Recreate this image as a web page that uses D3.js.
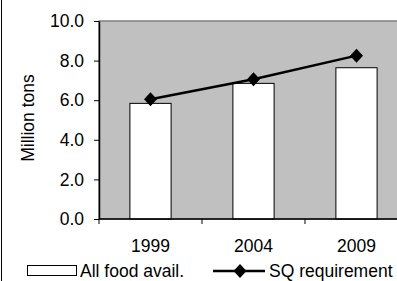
<!DOCTYPE html>
<html>
<head>
<meta charset="utf-8">
<script src="https://cdn.jsdelivr.net/npm/d3@7"></script>
<style>
  body { margin: 0; background: #fff; }
  svg { display: block; font-family: "Liberation Sans", Arial, sans-serif; }
</style>
</head>
<body>
<div id="chart"></div>
<script>
// Chart data
var years = ["1999", "2004", "2009"];
var foodAvail = [5.84, 6.85, 7.64];
var sqRequirement = [6.05, 7.06, 8.25];
var yTicks = [0, 2, 4, 6, 8, 10];

var svgWidth = 397;
var svgHeight = 281;
var fontSize = "17.5px";

// plot area (runs a bit past the right edge like the original)
var plot = { left: 99, right: 408, top: 21, bottom: 219 };

var svg = d3.select("#chart")
  .append("svg")
  .attr("width", svgWidth)
  .attr("height", svgHeight);

var xScale = d3.scaleBand()
  .domain(years)
  .range([plot.left, plot.right])
  .padding(0);

var yScale = d3.scaleLinear()
  .domain([0, 10])
  .range([plot.bottom, plot.top]);

// left frame line
svg.append("line")
  .attr("x1", 1.5).attr("x2", 1.5)
  .attr("y1", 0).attr("y2", svgHeight)
  .attr("stroke", "#000")
  .attr("stroke-width", 1);

// grey plot background
svg.append("rect")
  .attr("x", plot.left)
  .attr("y", plot.top)
  .attr("width", plot.right - plot.left)
  .attr("height", plot.bottom - plot.top)
  .attr("fill", "#c0c0c0")
  .attr("stroke", "#808080")
  .attr("stroke-width", 1.5);

// bars
var barWidth = xScale.bandwidth() * 0.4;
svg.selectAll(".bar")
  .data(foodAvail)
  .enter()
  .append("rect")
  .attr("class", "bar")
  .attr("x", (d, i) => xScale(years[i]) + xScale.bandwidth() / 2 - barWidth / 2)
  .attr("y", d => yScale(d))
  .attr("width", barWidth)
  .attr("height", d => yScale(0) - yScale(d))
  .attr("fill", "#fff")
  .attr("stroke", "#000")
  .attr("stroke-width", 1);

// y axis
var leftAxis = d3.axisLeft(yScale)
  .tickValues(yTicks)
  .tickFormat(d3.format(".1f"))
  .tickSizeInner(5)
  .tickSizeOuter(0)
  .tickPadding(10);

var yAxisG = svg.append("g")
  .attr("transform", `translate(${plot.left}, 0)`)
  .call(leftAxis);
yAxisG.select(".domain").attr("stroke", "#000").attr("stroke-width", 1.5);
yAxisG.selectAll("text")
  .attr("font-size", fontSize)
  .attr("fill", "#000")
  .attr("font-family", "Liberation Sans, Arial, sans-serif");

// x axis line and ticks at category boundaries
var xAxisG = svg.append("g");
xAxisG.append("line")
  .attr("x1", plot.left).attr("x2", plot.right)
  .attr("y1", plot.bottom).attr("y2", plot.bottom)
  .attr("stroke", "#000")
  .attr("stroke-width", 1.5);
xAxisG.selectAll(".xtick")
  .data(years)
  .enter()
  .append("line")
  .attr("class", "xtick")
  .attr("x1", d => xScale(d))
  .attr("x2", d => xScale(d))
  .attr("y1", plot.bottom)
  .attr("y2", plot.bottom + 5)
  .attr("stroke", "#000");
xAxisG.selectAll(".xlabel")
  .data(years)
  .enter()
  .append("text")
  .attr("class", "xlabel")
  .attr("x", d => xScale(d) + xScale.bandwidth() / 2)
  .attr("y", 252)
  .attr("text-anchor", "middle")
  .attr("font-size", fontSize)
  .text(d => d);

// SQ requirement line
var line = d3.line()
  .x((d, i) => xScale(years[i]) + xScale.bandwidth() / 2)
  .y(d => yScale(d));

svg.append("path")
  .datum(sqRequirement)
  .attr("d", line)
  .attr("fill", "none")
  .attr("stroke", "#000")
  .attr("stroke-width", 2.5);

var diamond = "M0,-7L6.5,0L0,7L-6.5,0Z";
svg.selectAll(".marker")
  .data(sqRequirement)
  .enter()
  .append("path")
  .attr("class", "marker")
  .attr("d", diamond)
  .attr("transform", (d, i) => `translate(${xScale(years[i]) + xScale.bandwidth() / 2}, ${yScale(d)})`)
  .attr("fill", "#000");

// y axis title
svg.append("text")
  .attr("transform", "translate(34, 118) rotate(-90)")
  .attr("text-anchor", "middle")
  .attr("font-size", fontSize)
  .text("Million tons");

// legend
var legend = svg.append("g");
legend.append("rect")
  .attr("x", 27.5).attr("y", 265.5)
  .attr("width", 49).attr("height", 10)
  .attr("fill", "#fff")
  .attr("stroke", "#000");
legend.append("text")
  .attr("x", 80).attr("y", 277)
  .attr("font-size", fontSize)
  .text("All food avail.");
legend.append("line")
  .attr("x1", 213).attr("x2", 265)
  .attr("y1", 271).attr("y2", 271)
  .attr("stroke", "#000")
  .attr("stroke-width", 2.5);
legend.append("path")
  .attr("d", diamond)
  .attr("transform", "translate(240, 271)")
  .attr("fill", "#000");
legend.append("text")
  .attr("x", 269).attr("y", 277)
  .attr("font-size", fontSize)
  .text("SQ requirement");
</script>
</body>
</html>
